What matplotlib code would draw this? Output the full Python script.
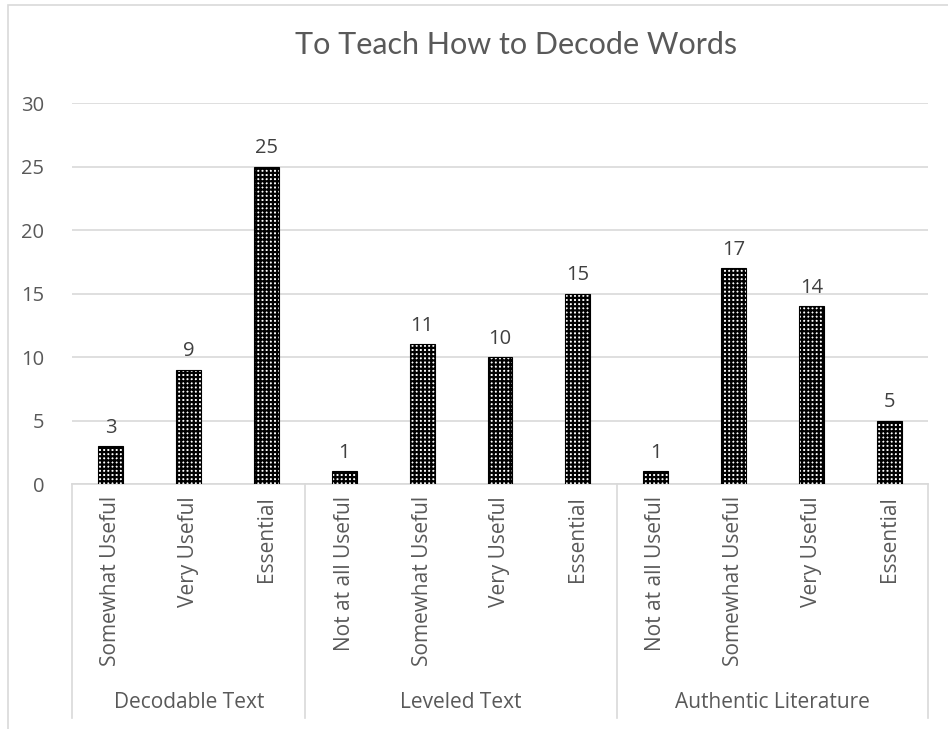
import matplotlib
matplotlib.use("Agg")
import matplotlib.pyplot as plt
from matplotlib.patches import Rectangle

groups = ["Decodable Text", "Leveled Text", "Authentic Literature"]
group_sizes = [3, 4, 4]
ratings = ["Somewhat Useful", "Very Useful", "Essential",
           "Not at all Useful", "Somewhat Useful", "Very Useful", "Essential",
           "Not at all Useful", "Somewhat Useful", "Very Useful", "Essential"]
counts = [3, 9, 25, 1, 11, 10, 15, 1, 17, 14, 5]
yticks = [0, 5, 10, 15, 20, 25, 30]

grey = "#595959"
light = "#d9d9d9"

plt.rcParams["font.family"] = ["Open Sans", "DejaVu Sans"]
plt.rcParams["hatch.color"] = "black"
plt.rcParams["hatch.linewidth"] = 1.6

W, H = 948, 729
fig = plt.figure(figsize=(W / 100, H / 100), dpi=100)

# outer chart frame
fig.add_artist(Rectangle((8 / W, -0.01), 1.0, 1 - 5 / H + 0.01, transform=fig.transFigure,
                         fill=False, edgecolor=light, linewidth=1.2))

x0, x1, ytop, ybot = 72, 928, 103, 484
ax = fig.add_axes([x0 / W, 1 - ybot / H, (x1 - x0) / W, (ybot - ytop) / H])

pos = list(range(len(counts)))
ax.bar(pos, counts, width=0.32, color="white", edgecolor="black",
       hatch="++++", linewidth=0.8, zorder=3)

for p, v in zip(pos, counts):
    ax.annotate(str(v), (p, v), xytext=(0, 6), textcoords="offset points",
                ha="center", va="bottom", fontsize=14.5, color="#404040")

ax.set_xlim(-0.5, len(counts) - 0.5)
ax.set_ylim(0, 30)
ax.set_yticks(yticks)
ax.set_yticklabels([str(t) for t in yticks])
ax.tick_params(axis="y", length=0, pad=20, labelsize=14.5, labelcolor=grey)
ax.set_xticks([])
ax.grid(axis="y", color=light, linewidth=1.2, zorder=0)
for s in ["top", "right", "left"]:
    ax.spines[s].set_visible(False)
ax.spines["bottom"].set_color(light)
ax.spines["bottom"].set_linewidth(1.2)

# category labels and group separators below the axis
trans = ax.get_xaxis_transform()
for p, lab in zip(pos, ratings):
    ax.text(p, -12 / (ybot - ytop), lab, transform=trans, rotation=90,
            ha="center", va="top", fontsize=15, color=grey)

sep_bottom = -(718 - ybot) / (ybot - ytop)
edges = [-0.5]
for n in group_sizes:
    edges.append(edges[-1] + n)
for e in edges:
    ax.plot([e, e], [0, sep_bottom], transform=trans, color=light,
            linewidth=1.2, clip_on=False)
for i, g in enumerate(groups):
    mid = (edges[i] + edges[i + 1]) / 2
    ax.text(mid, -(702 - ybot) / (ybot - ytop), g, transform=trans,
            ha="center", va="center", fontsize=15, color=grey)

fig.text(516 / W, 1 - 45 / H, "To Teach How to Decode Words",
         ha="center", va="center", fontsize=22, color=grey, family="Lato")

fig.savefig("out.png", dpi=100)
